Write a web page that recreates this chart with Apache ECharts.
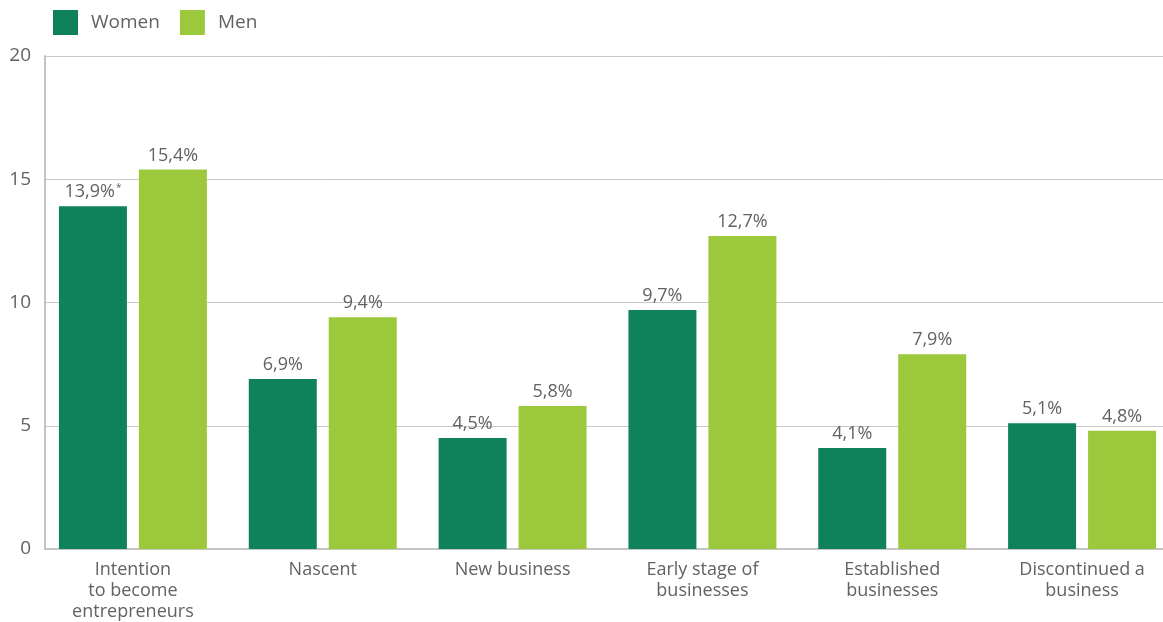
<!DOCTYPE html>
<html>
<head>
<meta charset="utf-8">
<script src="https://cdn.jsdelivr.net/npm/echarts@6/dist/echarts.min.js"></script>
<style>
  html, body { margin: 0; padding: 0; background: #fff; overflow: hidden; }
  #chart { width: 1177px; height: 622px; }
</style>
</head>
<body>
<div id="chart"></div>
<script>
// Categories and shares (%) by gender
const categories = [
  'Intention\nto become\nentrepreneurs',
  'Nascent',
  'New business',
  'Early stage of\nbusinesses',
  'Established\nbusinesses',
  'Discontinued a\nbusiness'
];
const women = [13.9, 6.9, 4.5, 9.7, 4.1, 5.1];
const men = [15.4, 9.4, 5.8, 12.7, 7.9, 4.8];
const womenNotes = ['*', '', '', '', '', ''];
const yTicks = [0, 5, 10, 15, 20];

const FONT = '"Open Sans", Lato, sans-serif';
const TEXT = '#626262';

function fmt(v) { return v.toFixed(1).replace('.', ',') + '%'; }

const yMin = yTicks[0], yMax = yTicks[yTicks.length - 1], yStep = yTicks[1] - yTicks[0];

const chart = echarts.init(document.getElementById('chart'));
chart.setOption({
  animation: false,
  textStyle: { fontFamily: FONT },
  legend: {
    left: 48, top: 5,
    itemWidth: 25, itemHeight: 25, itemGap: 20,
    icon: 'rect',
    textStyle: { fontSize: 19, color: TEXT, fontFamily: FONT, padding: [0, 0, 0, 8] },
    data: ['Women', 'Men']
  },
  // grid 0: frame, gridlines and value axis; grid 1: bars and category labels
  grid: [
    { left: 45, right: 14, top: 56, bottom: 73 },
    { left: 38, right: 0, top: 56, bottom: 73 }
  ],
  xAxis: [
    {
      gridIndex: 0, type: 'category', data: categories,
      axisLine: { lineStyle: { color: '#c4c4c4', width: 2 } },
      axisTick: { show: false }, axisLabel: { show: false }
    },
    {
      gridIndex: 1, type: 'category', data: categories,
      axisLine: { show: false }, axisTick: { show: false },
      axisLabel: { color: TEXT, fontSize: 18, lineHeight: 21, margin: 10, fontFamily: FONT }
    }
  ],
  yAxis: [
    {
      gridIndex: 0, type: 'value', min: yMin, max: yMax, interval: yStep,
      axisLine: { show: true, lineStyle: { color: '#c4c4c4', width: 2 } },
      axisTick: { show: false },
      axisLabel: { color: TEXT, fontSize: 19, margin: 14, fontFamily: FONT },
      splitLine: { lineStyle: { color: '#c8c8c8', width: 1 } }
    },
    {
      gridIndex: 1, type: 'value', min: yMin, max: yMax, interval: yStep,
      show: false, splitLine: { show: false }
    }
  ],
  series: [
    {
      name: 'Women', type: 'bar', data: women,
      xAxisIndex: 1, yAxisIndex: 1,
      barWidth: 68, barGap: '17.6%',
      itemStyle: { color: '#0f825c' },
      label: {
        show: true, position: 'top', distance: 5,
        color: TEXT, fontSize: 18, fontFamily: FONT,
        formatter: p => womenNotes[p.dataIndex]
          ? fmt(p.value) + '{sup|' + womenNotes[p.dataIndex] + '}'
          : fmt(p.value),
        rich: { sup: { fontSize: 10, color: TEXT, fontFamily: FONT, verticalAlign: 'top', padding: [0, 0, 8, 1] } }
      }
    },
    {
      name: 'Men', type: 'bar', data: men,
      xAxisIndex: 1, yAxisIndex: 1,
      barWidth: 68,
      itemStyle: { color: '#9bc93b' },
      label: {
        show: true, position: 'top', distance: 5,
        color: TEXT, fontSize: 18, fontFamily: FONT,
        formatter: p => fmt(p.value)
      }
    }
  ]
});
</script>
</body>
</html>
